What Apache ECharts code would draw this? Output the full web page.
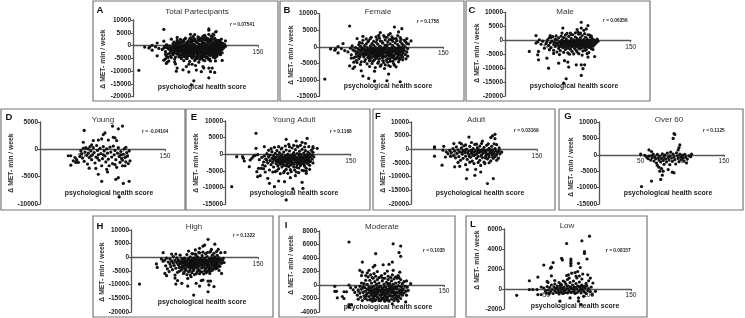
<!DOCTYPE html>
<html><head><meta charset="utf-8">
<style>html,body{margin:0;padding:0;background:#fff}#c{width:745px;height:318px}</style>
<script src="https://cdn.jsdelivr.net/npm/echarts@6/dist/echarts.min.js"></script>
</head><body><div id="c"></div>
<script>
const pointsFemale=[[7,-9700],[37,6300],[74,4300],[91,6000],[100,5500],[96,4500],[86,4000],[53,3200],[46,2500],[62,2500],[69,3000],[79,3000],[98,2800],[106,2500],[111,1800],[106,1000],[29,1000],[23,100],[14,-600],[19,-1000],[23,-1800],[20,-600],[27,-500],[31,-1100],[37,-5700],[41,-6500],[43,-6000],[51,-7200],[53,-8800],[60,-9500],[67,-10300],[67,-7300],[82,-10200],[84,-8200],[98,-10500],[79,-6500],
[35,-1500],[38,-400],[39,-2400],[40,300],[41,-900],[42,-3300],[43,-1200],[44,-200],[45,-2100],[45,-4100],[46,-1500],[47,-600],[47,-2800],[48,700],[48,-3600],[49,-900],[49,-1900],[50,200],[50,-2300],[51,-1100],[51,-4500],[52,-300],[52,1100],[53,-1700],[54,-3000],[54,-500],[55,400],[55,-2500],[56,-1000],[56,-3800],[57,900],[57,-1400],[58,-200],[58,-2000],[59,-3200],[59,1500],[60,-800],[60,-2700],[61,-1600],[61,-4200],[62,300],[62,-1200],[63,-2200],[63,-300],[63,-3400],[64,1000],[64,-5000],[65,-1800],[65,-700],[66,-2900],[66,500],[67,-3900],[67,-1000],[68,-2400],[68,-100],[69,-3300],[69,1400],[70,-1500],[70,-500],[71,-2800],[71,800],[72,-4400],[72,-2000],[73,-900],[73,-3600],[74,200],[74,1800],[75,-5400],[75,-1300],[76,-2500],[76,-400],[77,1100],[77,-3100],[78,-4700],[78,-1700],[79,-700],[79,-3000],[80,500],[80,2100],[81,-4000],[81,-1100],[82,-2200],[82,-100],[83,-3500],[83,1500],[84,-5600],[84,-1500],[85,-500],[85,-2700],[86,900],[86,-4300],[87,2200],[87,-1900],[88,-800],[88,-3200],[89,400],[89,1700],[90,-5000],[90,-1200],[91,-2400],[91,-200],[92,-3700],[92,1200],[93,2500],[93,-6000],[94,-1600],[94,-600],[95,-2900],[95,700],[96,-4500],[96,-1000],[97,-2100],[97,100],[98,-3400],[98,1600],[99,-1400],[99,-400],[100,-2600],[100,1000],[101,-3900],[101,-1800],[102,-700],[102,500],[103,2000],[103,-1100],[104,-2300],[104,0],[105,-3600],[105,1400],[106,-1500],[107,-500],[107,-2800],[108,900]];
const denseFemale=[[49.5,-3000],[52.5,-800],[55.5,-1700],[58.5,-1100],[60.5,-3500],[62.5,-600],[63.5,-1900],[65.5,-2700],[66.5,-400],[67.5,-1500],[68.5,-3100],[69.5,-800],[70.5,-2200],[71.5,-1200],[72.5,-100],[73.5,-2700],[74.5,-1700],[75.5,-600],[76.5,-3300],[77.5,-2100],[78.5,-1000],[79.5,-200],[80.5,-2800],[81.5,-1600],[82.5,600],[83.5,-2500],[84.5,-800],[85.5,-3600],[86.5,-1500],[87.5,-300],[88.5,-2300],[89.5,-1000],[90.5,-3000],[91.5,-1500],[92.5,-500],[93.5,-2000],[94.5,-3400],[95.5,-200],[96.5,-1700],[97.5,-800],[98.5,-2500],[99.5,-1100],[72,-1500],[66,-1700],[61,-2300],[57,-2400],[75,-2200],[78,-300],[83,-1100],[88,-1600],[93,-1100],[98,-1300],[81,-300],[69,-2200],[86,-2200],[91,-3400],[77,-500],[64,-1200],[95,-1700],[59,-600],[53,-2300],[100,-100],[83,-2100],[73,-200],[68,-1000],[79,-1700],[90,-100],[85,-1300],[96,-2500],[62,-3000],[56,-2100],[70,-3400],[87,-2900],[76,-1200]];
const edgeFemale=[[44,-3000],[46,-4700],[49,1400],[50,-5300],[53,2000],[55,-4400],[57,2400],[58,-5100],[60,1900],[61,-5900],[63,2900],[65,-4300],[66,1700],[68,-6200],[70,2200],[71,-4900],[73,2700],[74,-5800],[76,1600],[77,-4100],[78,3400],[80,-5400],[82,2900],[83,-4600],[85,2200],[86,-5900],[88,3000],[89,-4300],[90,2500],[91,-5500],[94,1900],[95,3400],[97,-3900],[99,2300],[101,-3100],[104,1800],[39,-3400],[42,-4600],[72,3500],[84,3600]];
const pointsMale=[[29,-4000],[37,1700],[37,-1000],[41,200],[40,-4000],[39,-5200],[40,-7000],[52,-10000],[50,-6400],[53,-3400],[54,1700],[64,-8200],[71,-7300],[75,-7800],[76,-9600],[73,-13800],[70,-15400],[68,2600],[69,4400],[91,6500],[91,4400],[99,5300],[97,4100],[94,3600],[86,3900],[78,2600],[85,-8800],[91,-8800],[95,-8800],[93,-10200],[91,-12600],[107,-5800],[99,-6000],[39,-600],[43,-1400],[45,-300],[47,-2800],[49,-1200],[50,-500],
[51,300],[52,-1900],[53,1000],[54,-900],[55,-2600],[56,-300],[57,1300],[58,-1500],[58,-3600],[59,-700],[60,400],[60,-2200],[61,-1100],[62,-4200],[62,100],[63,-1700],[64,-2900],[64,900],[65,-600],[66,-2200],[66,-3700],[67,-1200],[68,200],[68,-300],[69,-2600],[70,-1500],[70,1000],[71,-800],[72,-3300],[72,-2000],[73,500],[73,-100],[74,-1300],[75,-2800],[75,-4500],[76,-700],[76,1400],[77,-1800],[78,-300],[78,-3200],[79,700],[79,-1200],[80,-2300],[80,-4000],[81,-600],[81,2000],[82,200],[82,-1600],[83,-2900],[83,-100],[84,-1000],[84,1200],[85,-3600],[85,-2000],[86,-500],[86,600],[87,-1400],[87,-2500],[88,2200],[88,0],[88,-4800],[89,-900],[89,-3100],[90,-1800],[90,900],[91,-300],[91,-2300],[92,-1200],[92,1700],[93,-3800],[93,-600],[94,300],[94,-1700],[95,-2700],[95,-100],[96,-1000],[96,1100],[97,-2000],[97,-3300],[98,-500],[98,500],[99,-1400],[99,2000],[100,-2500],[100,-4400],[101,-800],[101,100],[102,-1700],[102,1200],[103,-300],[103,-3000],[104,-1100],[104,600],[105,-2100],[106,-600],[106,200],[107,-1500],[108,-200],[109,-900],[110,400],[111,-300]];
const denseMale=[[62.5,-1000],[64.5,-2000],[66.5,-900],[68.5,-1700],[70.5,-400],[71.5,-2400],[73.5,-1000],[74.5,-2100],[75.5,-200],[77.5,-900],[78.5,-2400],[79.5,-300],[80.5,-1300],[82.5,-700],[83.5,-2000],[84.5,-400],[85.5,-1400],[87.5,-500],[88.5,-1700],[89.5,200],[90.5,-1100],[91.5,-2700],[92.5,-100],[93.5,-1500],[94.5,-1000],[95.5,-500],[96.5,-2300],[97.5,-800],[98.5,-1800],[99.5,-200],[100.5,-1300],[101.5,-2200],[102.5,-600],[103.5,-1500],[76,-1400],[72,-600],[84,-1600],[90,-400],[95,-1400],[81,-1900],[67,-500],[87,-1000],[93,-2000],[78,-1400],[69,-1000],[74,-300]];
const edgeMale=[[55,1000],[58,-4700],[61,1600],[65,-5100],[67,1500],[70,-4300],[72,1900],[74,2500],[77,-5000],[79,2100],[82,-4900],[84,2700],[86,-4200],[87,3000],[90,2600],[92,-5300],[95,2400],[96,-3600],[98,-4800],[101,1900],[103,1500],[105,-3300]];
const pointsYoung=[[53,3450],[78,3000],[76,2700],[74,1900],[87,4250],[94,3760],[99,4250],[88,2200],[90,2100],[92,1600],[52,1300],[64,1600],[70,1700],[82,1700],[62,800],[103,370],[34,-1170],[37,-1170],[37,-2900],[40,-2100],[43,-2400],[46,-2400],[42,-1500],[48,-1300],[59,-3450],[67,-3500],[70,-4560],[74,-5860],[80,-3640],[81,-4130],[91,-5490],[94,-5180],[100,-6230],[107,-5860],[95,-8700],[108,-2100],[102,-3000],
[44,-1900],[49,-300],[50,-800],[51,-1600],[52,200],[53,-2200],[54,-500],[55,300],[56,-1100],[57,-2700],[58,100],[58,-700],[59,-1500],[60,500],[61,-300],[62,-1900],[63,-1000],[64,300],[65,-600],[66,-2500],[67,-1400],[68,700],[69,-200],[70,-1000],[71,-2000],[72,200],[73,-800],[74,-3000],[75,-1700],[76,500],[77,-300],[78,-1200],[79,-2300],[80,100],[81,-700],[82,-1800],[83,-3000],[84,400],[85,-500],[86,-1400],[87,-2600],[88,600],[89,-1000],[90,-200],[91,-1900],[92,-3300],[93,-700],[94,300],[95,-1300],[96,-2400],[97,-400],[98,-1700],[99,-3000],[100,-900],[101,100],[102,-1500],[103,-2300],[104,-600],[105,-1200],[106,-2600],[107,-300],[99,-2000],[90,-2800],[76,-1000],[69,-1600],[61,-1200],[97,-1000]];
const pointsYoungAdult=[[8,-9700],[37,6300],[37,1800],[47,2300],[14,-700],[21,-700],[22,-1200],[23,-2000],[29,-3700],[30,-1700],[32,-1200],[38,-5200],[39,-6700],[42,-6400],[40,-4200],[43,-4200],[45,-3200],[51,-7200],[53,-8700],[59,-9700],[64,-8000],[71,-8200],[78,-7000],[81,-10400],[84,-6400],[92,-8400],[93,-10200],[73,-13700],[97,-5000],[97,-5700],[73,4500],[85,4000],[98,4800],[92,3600],[96,3300],[76,3000],[105,2300],[105,1800],[110,1800],[105,600],[34,-600],[36,-300],[39,-100],[41,-1600],[44,-900],[46,-2300],[47,-500],
[48,-3500],[49,-1400],[50,200],[51,-2600],[52,1200],[52,-700],[53,-4700],[54,-1900],[54,-200],[55,-3100],[56,-1100],[56,800],[57,-2400],[58,-400],[58,-3800],[59,-1600],[60,300],[60,-5200],[61,-2800],[61,-900],[62,-1900],[62,1100],[63,-3400],[63,-300],[64,-1300],[64,-4300],[65,-2300],[65,500],[66,-700],[66,-3000],[67,-1700],[67,1600],[68,-3800],[68,-100],[69,-2600],[69,-1000],[70,-5500],[70,700],[71,-1500],[71,-3300],[72,-400],[72,-2200],[73,1300],[73,-4500],[74,-1100],[74,-2900],[75,100],[75,-1800],[76,-3700],[76,-600],[77,1000],[77,-2400],[78,-1300],[78,-4600],[79,-200],[79,-3200],[80,-1900],[80,1900],[81,-800],[81,-2700],[82,500],[82,-3800],[83,-1500],[83,-300],[84,-2300],[84,1400],[85,-5300],[85,-1000],[86,-3100],[86,200],[87,-1800],[87,2200],[88,-600],[88,-4100],[89,-2500],[89,900],[90,-1200],[90,-3400],[91,-100],[91,-2000],[92,1500],[92,-4800],[93,-800],[93,-2800],[94,400],[94,-1600],[95,-3600],[95,-300],[96,1100],[96,-2200],[97,-1000],[97,-4200],[98,-100],[98,-1900],[99,700],[99,-2900],[100,-600],[100,-1400],[101,-3300],[101,200],[102,-2100],[102,-800],[103,1200],[104,-1400],[104,-200],[105,-2600],[106,-700]];
const denseYoungAdult=[[57.5,-1500],[59.5,-900],[61.5,-2200],[63.5,-1700],[65.5,-1200],[66.5,-2500],[67.5,-400],[68.5,-1600],[69.5,-3200],[70.5,-800],[71.5,-2300],[72.5,-1200],[73.5,-3500],[74.5,-300],[75.5,-2400],[76.5,-1400],[77.5,-3200],[78.5,-700],[79.5,-2500],[80.5,-100],[81.5,-1600],[82.5,-3000],[83.5,-900],[84.5,-2000],[85.5,-3900],[86.5,-1200],[87.5,-2700],[88.5,100],[89.5,-1700],[90.5,-3000],[91.5,-900],[92.5,-2400],[93.5,-1500],[94.5,-3100],[95.5,-700],[96.5,-1400],[97.5,-2500],[98.5,-800],[99.5,-1600],[100.5,-2300],[72,-1700],[76,-2000],[80,-1000],[84,-1300],[88,-1400],[92,-1800],[96,-500],[68,-2300],[64,-2400],[60,-1700],[74,-700],[78,-2100],[82,-1000],[86,-2400],[90,-500],[94,-2300],[70,-1900],[66,-1500]];
const edgeYoungAdult=[[46,-4300],[48,-5300],[50,-1800],[55,1700],[57,-5300],[59,2100],[62,-4900],[64,2300],[66,-5800],[68,1900],[71,-5000],[72,2500],[75,-5700],[77,2300],[79,-5200],[82,2700],[83,-4700],[86,2500],[88,-5500],[90,2700],[94,-4900],[95,2200],[100,2300],[101,-4500]];
const pointsAdult=[[28,600],[28,900],[28,-2500],[39,1100],[37,-5800],[41,-2800],[52,-6400],[58,-6200],[65,-5600],[67,-7400],[66,-10700],[76,-9500],[77,-7300],[83,-8300],[91,-12500],[98,-10700],[69,4500],[58,2400],[51,2100],[85,3000],[95,4300],[100,5500],[97,4900],[100,3900],[102,1700],[105,500],[108,-1000],[102,-4000],[88,-5200],[83,-5900],[75,-5200],[38,-300],[42,-900],[44,-1600],[46,-400],[47,-2500],
[48,-1100],[50,300],[51,-2200],[52,-700],[53,-3100],[54,900],[55,-1500],[56,-200],[57,-2700],[58,-900],[59,-4000],[60,500],[61,-1800],[62,-500],[62,-3300],[63,1300],[64,-1200],[65,-2500],[66,100],[67,-3700],[68,-800],[69,-1900],[70,1100],[71,-400],[71,-2900],[72,-1400],[73,-4300],[74,300],[75,-1000],[75,-2300],[76,1800],[77,-600],[78,-3300],[78,-1700],[79,600],[80,-200],[80,-2600],[81,-1200],[82,-4000],[82,1200],[83,-800],[84,-2000],[85,-100],[85,-3000],[86,-1400],[87,700],[87,-4700],[88,-600],[89,-2400],[89,-1100],[90,1500],[91,-3500],[91,-300],[92,-1700],[93,400],[93,-2800],[94,-900],[95,-4200],[95,-1400],[96,1100],[97,-200],[97,-2200],[98,-3300],[98,-800],[99,-1500],[100,300],[100,-2700],[101,-600],[102,-1900],[103,-1000],[104,-3300],[105,-500],[106,-1600],[67.5,-1300],[72.5,-500],[76.5,-1900],[79.5,-1100],[83.5,-2400],[86.5,-600],[90.5,-1800],[94.5,-300],[97.5,-1300],[73.5,-2100],[69.5,-2600],[81.5,-300],[88.5,-3100],[92.5,-2200],[64.5,-400],[60.5,-1200],[60,2000],[65,1600],[72,2500],[78,1900],[84,2100],[92,2000],[56,-4800],[70,-4700],[80,-4800],[93,-4900],[99,2000]];
const pointsOver60=[[51,-9700],[63,-8000],[74,-7500],[76,-6200],[77,-5000],[90,6500],[91,6200],[89,5000],[97,3000],[96,2200],[95,1500],[60,1500],[63,1000],[111,200],[105,-2500],[88,-5300],[90,-5500],[83,-4500],[73,-5000],[50,200],[55,-200],[57,-700],[59,-1200],[60,-400],[62,-1600],[63,-300],[64,-900],[65,200],[66,-1900],[67,-600],[68,-1200],[69,-2500],[70,100],[70,-3200],[71,-900],[72,-1600],[72,-3800],[73,-400],[74,-2200],[75,-1100],[75,-4200],[76,300],[77,-1700],[78,-700],[78,-2900],[79,-100],[80,-1300],[81,-2200],[82,500],[83,-800],[84,-1600],[85,-300],[85,-3000],[86,800],[87,-1000],[88,-2000],[89,200],[90,-700],[91,-1500],[92,-2800],[93,600],[94,-300],[95,-1100],[96,-2100],[97,200],[98,-700],[99,-1500],[100,-100],[101,-900],[102,-1900],[103,100],[104,-700],[106,-1300],[108,-300],[110,-600]];
const pointsHigh=[[10,-9800],[30,-2400],[31,-3700],[38,1700],[48,1200],[53,1200],[68,2300],[91,6600],[85,4100],[87,4500],[99,4800],[95,2900],[103,2900],[101,2100],[111,1800],[106,1700],[76,2700],[81,3300],[74,-13800],[91,-12600],[92,-10100],[98,-10700],[94,-8700],[91,-8700],[85,-8300],[83,-8500],[81,-10500],[77,-9500],[67,-10500],[71,-7100],[67,-7700],[60,-9500],[53,-9800],[55,-8500],[52,-6500],[52,-7600],[42,-6700],[40,-5900],[107,-5900],[93,-5900],[36,-600],[38,-1400],[40,-1000],[41,-3100],[42,-300],[43,-4200],[44,-1700],[45,-5200],[46,-2400],[46,-600],[47,-3400],[48,-1300],[49,-4500],[50,-2000],[50,300],[51,-3000],[52,-1100],[53,-4000],[54,-1900],[54,-200],[55,-5500],[56,-2800],[56,-900],[57,-3700],[58,-1600],[58,800],[59,-2300],[59,-4700],[60,-500],[61,-3100],[61,-1300],[62,-2200],[62,-5900],[63,-300],[63,-3900],[64,-1700],[64,-700],[65,-2800],[65,-4700],[66,-1200],[66,1000],[67,-3400],[67,-2000],[68,-400],[68,-5300],[69,-2600],[69,-1100],[70,-4100],[70,200],[71,-1700],[71,-3200],[72,-700],[72,-2300],[73,1300],[73,-4800],[74,-1400],[74,-3000],[75,-300],[75,-2000],[76,-3800],[76,-900],[77,700],[77,-6000],[78,-2500],[78,-1500],[79,-4400],[79,100],[80,-3300],[80,-1000],[81,-2000],[81,1600],[82,-5200],[82,-500],[83,-2800],[83,-1500],[84,-3900],[84,600],[85,-2300],[85,-900],[86,-6100],[86,-3200],[87,-300],[87,-1700],[88,1300],[88,-4600],[89,-2600],[89,-1100],[90,-3500],[90,300],[91,-1800],[91,-5100],[92,-700],[92,-2900],[93,1900],[93,-1400],[94,-3900],[94,-200],[95,-2300],[95,-1000],[96,-4700],[96,800],[97,-3000],[97,-1600],[98,-500],[98,-2300],[99,-3600],[99,200],[100,-1300],[100,-2900],[101,-600],[101,-1900],[102,-3300],[102,700],[103,-1100],[103,-2500],[104,-200],[105,-1700],[105,-3300],[106,-800],[107,-2200],[108,-1200],[110,-1900],[109,-400]];
const denseHigh=[[55.5,-1400],[57.5,-2300],[59.5,-3500],[60.5,-1700],[62.5,-1000],[63.5,-2900],[64.5,-4200],[65.5,-1700],[66.5,-3300],[67.5,-800],[68.5,-2500],[69.5,-4000],[70.5,-1200],[71.5,-2500],[72.5,-3700],[73.5,-300],[74.5,-2100],[75.5,-3300],[76.5,-1700],[77.5,-500],[78.5,-3500],[79.5,-2200],[80.5,-4600],[81.5,-900],[82.5,-2500],[83.5,-3800],[84.5,-1200],[85.5,-2900],[86.5,-2100],[87.5,-4000],[88.5,-900],[89.5,-3000],[90.5,-1400],[91.5,-2700],[92.5,-3800],[93.5,-500],[94.5,-2000],[95.5,-3200],[96.5,-1200],[97.5,-2500],[98.5,-1500],[99.5,-800],[100.5,-2300],[101.5,-3000],[102.5,-1500],[103.5,-400],[73,-1900],[78,-500],[82,-1500],[86,-1100],[90,-2300],[94,-1100],[98,-3300],[66,-2500],[70,-2100],[76,-2800],[80,-1700],[84,-2900],[88,-1900],[92,-1700],[96,-300],[100,-2000],[68,-3400],[62,-3500],[74,-3800],[79,-3000],[83,-500],[91,-3600],[95,-1500],[72,-1300],[64,-2300]];
const edgeHigh=[[57,-5100],[60,-4400],[63,-5300],[66,-6300],[69,-5000],[70,-6500],[72,-5600],[74,-4700],[75,-6300],[78,-5400],[80,-4900],[81,-6000],[84,-5400],[87,-5000],[89,-5600],[92,-4500],[94,-5000],[97,-4300],[100,-4200],[102,-3900],[104,-4800],[72,1400],[76,1200],[80,1800],[85,1900],[90,1700],[94,2200],[98,1500]];
const pointsModerate=[[36,6370],[89,6100],[98,5780],[96,4800],[98,4250],[68,4640],[52,3400],[77,3000],[84,3060],[88,3400],[19,-200],[19,-940],[21,-940],[22,-1900],[28,-1700],[30,-1000],[33,-1000],[30,-2000],[36,0],[36,-2900],[39,-2900],[36,-3260],[104,-2500],[110,200],[105,600],[49,2170],[52,1900],[51,1400],[60,2170],[65,2670],[67,2900],[89,2170],[97,1900],[95,1400],[82,2070],[38,-400],[41,-700],[43,-1100],[44,-300],[46,-1500],[47,-800],[47,-2100],[49,-200],[49,-1200],[50,-1800],[51,300],[51,-600],[52,-2300],[53,-1100],[54,200],[54,-1600],[55,-400],[55,-2000],[56,700],[56,-900],[57,-1400],[58,100],[58,-2200],[59,-600],[59,1200],[60,-1700],[60,-300],[61,-1100],[61,700],[62,-2100],[62,-500],[63,-1400],[63,300],[64,-800],[64,-2400],[65,1000],[65,-1800],[66,-200],[66,-1100],[67,-1500],[67,500],[68,-2200],[68,-700],[69,100],[69,-1300],[70,-1800],[70,800],[71,-400],[71,-1000],[72,-2300],[72,300],[73,-1500],[73,-700],[74,1200],[74,-200],[75,-1900],[75,-1100],[76,600],[76,-500],[77,-2100],[77,-1300],[78,100],[78,-800],[79,1000],[79,-1600],[80,-300],[80,-2200],[81,-1100],[81,400],[82,-600],[82,-1800],[83,800],[83,-1300],[84,-200],[84,-2400],[85,-900],[85,200],[86,-1600],[86,-400],[87,-2100],[87,600],[88,-1100],[88,-2800],[89,100],[89,-700],[90,-1500],[90,900],[91,-300],[91,-2000],[92,-1100],[92,300],[93,-1600],[93,-600],[94,1000],[94,-2200],[95,-100],[95,-1100],[96,-1700],[96,400],[97,-700],[97,-1300],[98,800],[98,-2000],[99,-300],[99,-1000],[100,-1500],[100,200],[101,-600],[102,-1200],[102,500],[103,-200],[104,-900],[105,-1500],[106,-300],[107,-800]];
const denseModerate=[[52.5,-300],[56.5,-1700],[58.5,-1200],[60.5,-800],[62.5,-1500],[63.5,-300],[64.5,-1200],[65.5,-2000],[66.5,-600],[67.5,-1000],[68.5,-1600],[69.5,-400],[70.5,-1200],[71.5,-2000],[72.5,-800],[73.5,-200],[74.5,-1500],[75.5,-700],[76.5,-2000],[77.5,-1000],[78.5,-300],[79.5,-1300],[80.5,-700],[81.5,-1900],[82.5,200],[83.5,-900],[84.5,-1600],[85.5,-500],[86.5,-1200],[87.5,-200],[88.5,-1700],[89.5,-1200],[90.5,-500],[91.5,-1300],[92.5,-1900],[93.5,-300],[94.5,-1100],[95.5,-1800],[96.5,-800],[97.5,-200],[98.5,-1300],[99.5,-700],[74,-1000],[78,-1800],[82,-1200],[86,-800],[90,-1000],[94,-1600],[70,-800],[66,-1600],[62,-1000],[58,-600],[76,-1300],[80,-1600],[84,-700],[88,-500]];
const edgeModerate=[[56,1400],[58,1800],[62,1500],[64,1100],[66,1700],[68,1300],[70,2000],[72,1100],[75,1400],[77,1000],[79,1700],[83,1300],[86,1100],[88,1500],[92,1200],[96,1100],[61,-2200],[67,-2300],[74,-2300],[79,-2400],[83,-2200],[90,-2300],[95,-2400]];
const pointsLow=[[15,-630],[30,-60],[34,-60],[30,825],[40,1190],[47,2400],[39,-60],[40,-560],[44,-560],[44,200],[51,760],[52,650],[55,2080],[56,2180],[58,2640],[56,1320],[68,3070],[69,2900],[74,4550],[92,4820],[101,5280],[95,3730],[95,3560],[98,3000],[79,3000],[79,2800],[79,2570],[79,2340],[88,2570],[90,2150],[87,1750],[84,1650],[80,1580],[74,1350],[76,1420],[99,1420],[102,1090],[100,825],[105,600],[97,560],[108,-230],[66,-1220],[78,-890],[88,-890],[88,-1220],[91,-1550],[94,-730],[104,-560],[47,100],[49,-200],[50,-400],[51,250],[52,-100],[53,-500],[54,150],[55,-250],[56,400],[57,-50],[58,-450],[59,200],[60,-200],[60,500],[61,50],[62,-350],[63,300],[64,-100],[65,650],[65,-500],[66,100],[67,-250],[68,400],[69,-50],[70,800],[70,-450],[71,200],[72,-150],[73,500],[74,0],[75,-400],[75,950],[76,300],[77,-100],[78,650],[79,100],[80,-300],[81,400],[82,800],[82,-50],[83,200],[84,-450],[85,550],[86,0],[86,1100],[87,300],[88,-200],[89,700],[90,100],[91,-400],[92,400],[92,1000],[93,-100],[94,250],[95,-300],[96,100],[97,-450],[98,300],[99,-150],[100,50],[102,-250],[103,200],[85,1300],[77,1100],[89,1300],[72,700],[67,500],[93,1500],[60,850],[54,-400],[62.5,100],[64.5,-300],[66.5,350],[68.5,-400],[70.5,150],[72.5,-350],[74.5,300],[76.5,-250],[78.5,200],[80.5,50],[82.5,-300],[84.5,150],[86.5,-350],[88.5,250],[90.5,-150],[92.5,50],[94.5,-250],[96.5,350],[71,-200],[75,50],[83,-200],[91,300],[68,100],[79,-350]];
const allFemale=pointsFemale.concat(denseFemale,edgeFemale);
const allMale=pointsMale.concat(denseMale,edgeMale);
const pointsTotal=allFemale.concat(allMale);

const panelNames=['Total Partecipants','Female','Male','Young','Young Adult','Adult','Over 60','High','Moderate','Low'];
const panelLetters=['A','B','C','D','E','F','G','H','I','L'];
const correlations=['r = 0.07541','r = 0.1758','r = 0.06356','r = -0.04104','r = 0.1168','r = 0.03169','r = 0.1125','r = 0.1322','r = 0.1035','r = 0.08157'];
const panelValues=[pointsTotal,allFemale,allMale,pointsYoung,pointsYoungAdult.concat(denseYoungAdult,edgeYoungAdult),pointsAdult,pointsOver60,pointsHigh.concat(denseHigh,edgeHigh),pointsModerate.concat(denseModerate,edgeModerate),pointsLow];
const yMin=[-20000,-15000,-20000,-10000,-15000,-20000,-15000,-20000,-4000,-2000];
const yMax=[10000,10000,10000,5000,10000,10000,10000,10000,8000,6000];
const yStep=[5000,5000,5000,5000,5000,5000,5000,5000,2000,2000];
const xTicks=[50,100,150];

/* layout only: box, plot area, text anchors */
const L=[
{b:[93,1,278,101],g:[133,20,258,96.7],t:197,tl:8,l:[100,10],r:[230,25],x:[202,87],n:[103,59]},
{b:[280,1,464,101],g:[319,13.7,443.3,96.7],t:378,tl:8,l:[287,10],r:[417,22],x:[388,86],n:[291,55]},
{b:[466,1,650,101],g:[505,12.5,630.7,96],t:565,tl:8,l:[472,10],r:[603,21],x:[574,86],n:[477,53]},
{b:[1,109,185,210],g:[40,122,165,204],t:103,tl:116,l:[9,117],r:[142,132],x:[109,193],n:[11,163]},
{b:[186,109,370,210],g:[225,121,350.7,204.3],t:294,tl:116,l:[194,117],r:[330,132],x:[294,193],n:[196,163]},
{b:[373,109,555,210],g:[411,122,537,204],t:476,tl:116,l:[378,116],r:[514,131],x:[480,193],n:[383,163]},
{b:[559,109,743,210],g:[599,122,724,204],t:669,tl:116,l:[568,116],r:[703,131],x:[668,193],n:[571,167]},
{b:[93,216,273,317],g:[131,230,258,312],t:194,tl:223,l:[100,226],r:[233,236],x:[202,302],n:[102,272]},
{b:[279,216,455,317],g:[319,231,444,312],t:382,tl:223,l:[286,225],r:[423,251],x:[388,307],n:[291,265]},
{b:[466,216,647,317],g:[504,229,631,309],t:567,tl:222,l:[473,224],r:[606,251],x:[575,306],n:[477,260]}
];
const FONT='"Liberation Sans",Arial,sans-serif', INK='#222';
const grid=[],xAxis=[],yAxis=[],series=[],title=[],graphic=[];
L.forEach((p,i)=>{
  const h=p.g[3]-p.g[1];
  const lift=h*(0-yMin[i])/(yMax[i]-yMin[i]);
  grid.push({left:p.g[0],top:p.g[1],width:p.g[2]-p.g[0],height:h,containLabel:false});
  xAxis.push({gridIndex:i,type:'value',min:0,max:150,interval:xTicks[0],position:'bottom',offset:-lift,splitLine:{show:false},
    axisLine:{onZero:false,lineStyle:{color:'#555',width:1.3}},axisTick:{length:2,lineStyle:{color:'#555'}},
    axisLabel:{fontFamily:FONT,fontSize:6.5,color:INK,margin:3,showMinLabel:false,hideOverlap:false,formatter:v=>String(v)}});
  yAxis.push({gridIndex:i,type:'value',min:yMin[i],max:yMax[i],interval:yStep[i],splitLine:{show:false},
    axisLine:{show:true,onZero:false,lineStyle:{color:'#555',width:1.3}},axisTick:{length:2,lineStyle:{color:'#555'}},
    axisLabel:{fontFamily:FONT,fontSize:6.5,fontWeight:'bold',color:INK,margin:2,hideOverlap:false,formatter:v=>String(v)}});
  series.push({type:'scatter',xAxisIndex:i,yAxisIndex:i,data:panelValues[i],symbol:'circle',symbolSize:3.2,
    itemStyle:{color:'#111',opacity:1},silent:true,animation:false,large:false});
  title.push({text:panelNames[i],left:p.t,top:p.tl,padding:0,textAlign:'center',textStyle:{fontFamily:FONT,fontSize:8,fontWeight:'normal',color:'#333'}});
  graphic.push({type:'rect',silent:true,shape:{x:p.b[0],y:p.b[1],width:p.b[2]-p.b[0],height:p.b[3]-p.b[1]},style:{fill:'none',stroke:'#777',lineWidth:1.2}});
  graphic.push({type:'text',silent:true,x:p.l[0],y:p.l[1],style:{text:panelLetters[i],font:'bold 9.5px '+FONT,fill:'#111',textAlign:'center',textVerticalAlign:'middle'}});
  graphic.push({type:'text',silent:true,x:p.r[0],y:p.r[1],style:{text:correlations[i],font:'bold 4.8px '+FONT,fill:'#222',textAlign:'left',textVerticalAlign:'middle'}});
  graphic.push({type:'text',silent:true,x:p.x[0],y:p.x[1],style:{text:'psychological health score',font:'bold 6.9px '+FONT,fill:'#222',textAlign:'center',textVerticalAlign:'middle'}});
  graphic.push({type:'text',silent:true,x:p.n[0],y:p.n[1],rotation:Math.PI/2,style:{text:'\u0394 MET- min / week',font:'bold 6.8px '+FONT,fill:'#333',textAlign:'center',textVerticalAlign:'middle'}});
});
const chart=echarts.init(document.getElementById('c'),null,{renderer:'canvas'});
chart.setOption({animation:false,backgroundColor:'#fff',title,grid,xAxis,yAxis,series,graphic});
</script></body></html>
